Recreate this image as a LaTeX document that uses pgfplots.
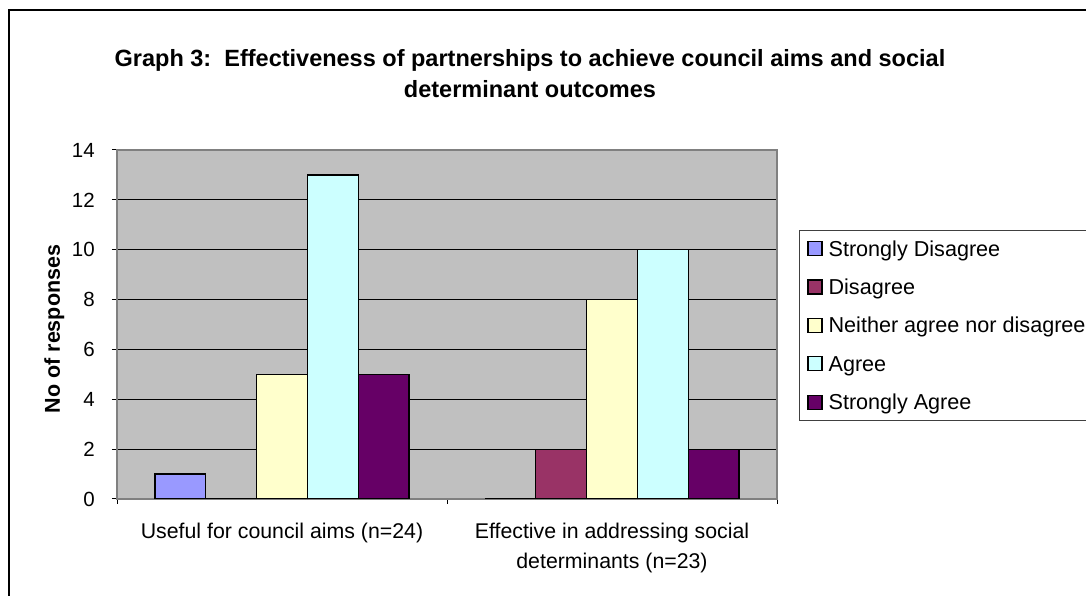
\documentclass[border=0pt]{standalone}
\usepackage{fontspec}
\setmainfont{Liberation Sans}
\usepackage{pgfplots}
\pgfplotsset{compat=1.18}
\definecolor{sd}{HTML}{9999FF}
\definecolor{dis}{HTML}{993366}
\definecolor{nei}{HTML}{FFFFCC}
\definecolor{agr}{HTML}{CCFFFF}
\definecolor{sa}{HTML}{660066}
\definecolor{plotgray}{HTML}{C0C0C0}
\definecolor{bordergray}{HTML}{808080}
\pgfplotsset{sqlegend/.style={legend image code/.code={\draw[##1,draw=black,line width=1.2pt] (0pt,-7pt) rectangle (14pt,7pt);}}}
\begin{document}
\begin{tikzpicture}
\useasboundingbox (0,0) rectangle (1086pt,596pt);
\fill[white] (0,0) rectangle (1086pt,596pt);
\draw[line width=2pt] (9pt,-5pt) -- (9pt,586pt) -- (1100pt,586pt);
\node[font=\fontsize{23.5}{28}\selectfont\bfseries, anchor=base, inner sep=0pt] at (530pt,529pt) {Graph 3:\ \ Effectiveness of partnerships to achieve council aims and social};
\node[font=\fontsize{23.5}{28}\selectfont\bfseries, anchor=base, inner sep=0pt] at (530pt,498pt) {determinant outcomes};
\begin{axis}[
  at={(117pt,97pt)}, anchor=south west,
  scale only axis, width=660pt, height=349pt,
  xmin=-0.5, xmax=1.5, ymin=0, ymax=14,
  ybar=0pt, bar width=0.153846,
  ytick={0,2,...,14},
  ymajorgrids, grid style={black, line width=1pt},
  axis background/.style={fill=plotgray},
  axis line style={draw=bordergray, line width=1.5pt},
  tick align=outside, major tick length=5pt, tick style={black, line width=1pt},
  tick pos=left,
  xtick={-0.5,0.5,1.5}, xticklabels={},
  extra x ticks={0,1},
  extra x tick labels={{Useful for council aims (n=24)},{Effective in addressing social\\determinants (n=23)}},
  extra x tick style={major tick length=0pt},
  xticklabel style={font=\fontsize{21.3}{30}\selectfont, align=center, anchor=north, inner sep=0pt, yshift=-24pt},
  yticklabel style={font=\fontsize{20.5}{24}\selectfont, anchor=east, inner sep=0pt, xshift=-17pt},
  /pgf/number format/assume math mode=true,
  ylabel={No of responses},
  ylabel style={font=\fontsize{21.5}{26}\selectfont\bfseries, at={(axis description cs:-0.0864,0.4871)}, anchor=base, rotate=0},
  legend style={at={(1.03333,0.77077)}, anchor=north west, draw=black!75, line width=0.8pt, fill=white,
    inner xsep=8pt, inner ysep=10.5pt, row sep=23.25pt, column sep=6pt,
    font=\fontsize{21.6}{25}\selectfont,
    nodes={inner sep=0pt, text height=15pt, text depth=0pt}},
  legend cell align=left,
]
\addplot[fill=sd, draw=black, line width=1.2pt, sqlegend] coordinates {(0,1) (1,0)};
\addplot[fill=dis, draw=black, line width=1.2pt, sqlegend] coordinates {(0,0) (1,2)};
\addplot[fill=nei, draw=black, line width=1.2pt, sqlegend] coordinates {(0,5) (1,8)};
\addplot[fill=agr, draw=black, line width=1.2pt, sqlegend] coordinates {(0,13) (1,10)};
\addplot[fill=sa, draw=black, line width=1.2pt, sqlegend] coordinates {(0,5) (1,2)};
\legend{Strongly Disagree, Disagree, Neither agree nor disagree, Agree, Strongly Agree}
\end{axis}
\end{tikzpicture}
\end{document}
